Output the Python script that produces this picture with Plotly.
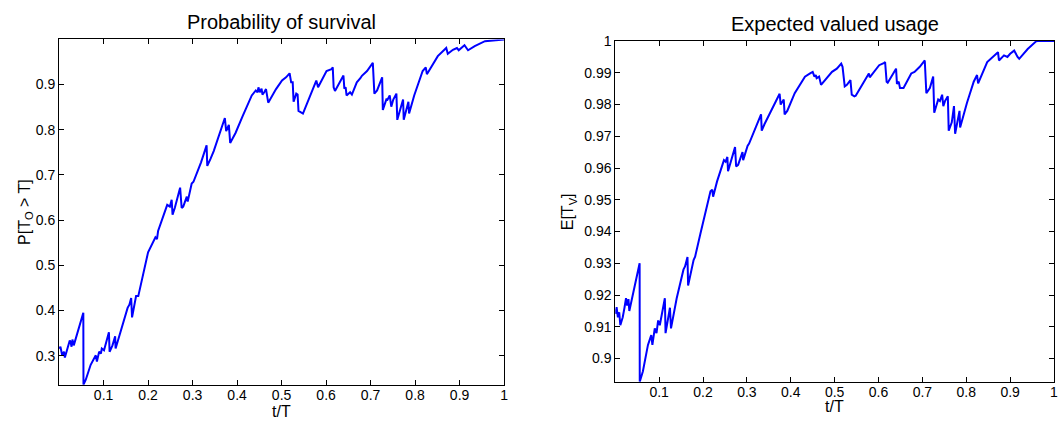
import plotly.graph_objects as go

# ---------------- data ----------------
surv_t = [0.000, 0.003, 0.007, 0.011, 0.013, 0.018, 0.022, 0.024, 0.026, 0.028, 0.030, 0.033,
          0.0545, 0.0548, 0.060, 0.071, 0.0825, 0.085, 0.090, 0.094, 0.096, 0.101, 0.112, 0.1135,
          0.120, 0.126, 0.127, 0.139, 0.154, 0.158, 0.162, 0.164, 0.173, 0.178, 0.200, 0.2165,
          0.220, 0.2225, 0.232, 0.243, 0.249, 0.253, 0.255, 0.260, 0.272, 0.2755, 0.279, 0.287,
          0.289, 0.298, 0.302, 0.319, 0.3315, 0.333, 0.340, 0.3475, 0.3725, 0.3755, 0.3815, 0.3845,
          0.389, 0.3965, 0.412, 0.433, 0.442, 0.446, 0.448, 0.451, 0.455, 0.457, 0.461, 0.465,
          0.470, 0.4875, 0.501, 0.510, 0.518, 0.5215, 0.525, 0.527, 0.533, 0.536, 0.538, 0.546,
          0.548, 0.578, 0.582, 0.601, 0.612, 0.615, 0.617, 0.620, 0.639, 0.641, 0.644, 0.646,
          0.654, 0.658, 0.669, 0.677, 0.6805, 0.692, 0.705, 0.7085, 0.7146, 0.726, 0.7275, 0.736,
          0.737, 0.743, 0.7465, 0.751, 0.758, 0.760, 0.7676, 0.773, 0.7745, 0.785, 0.7865, 0.798,
          0.817, 0.824, 0.8265, 0.851, 0.870, 0.8735, 0.885, 0.894, 0.898, 0.911, 0.919, 0.934,
          0.957, 0.980, 1.000]
surv_p = [0.316, 0.320, 0.301, 0.309, 0.296, 0.312, 0.323, 0.334, 0.330, 0.320, 0.336, 0.323,
          0.395, 0.236, 0.247, 0.280, 0.301, 0.287, 0.309, 0.305, 0.316, 0.312, 0.352, 0.309,
          0.323, 0.343, 0.316, 0.356, 0.406, 0.413, 0.428, 0.385, 0.432, 0.432, 0.529, 0.562,
          0.558, 0.576, 0.605, 0.634, 0.630, 0.645, 0.612, 0.627, 0.672, 0.627, 0.630, 0.652,
          0.641, 0.681, 0.685, 0.728, 0.7655, 0.720, 0.735, 0.753, 0.826, 0.797, 0.811, 0.771,
          0.779, 0.793, 0.829, 0.876, 0.887, 0.883, 0.894, 0.883, 0.891, 0.878, 0.883, 0.890,
          0.860, 0.890, 0.909, 0.916, 0.925, 0.905, 0.905, 0.862, 0.880, 0.878, 0.842, 0.838,
          0.836, 0.909, 0.894, 0.930, 0.934, 0.938, 0.894, 0.886, 0.920, 0.891, 0.894, 0.876,
          0.883, 0.878, 0.905, 0.914, 0.9195, 0.930, 0.948, 0.880, 0.887, 0.916, 0.844, 0.869,
          0.865, 0.876, 0.851, 0.867, 0.880, 0.822, 0.847, 0.867, 0.822, 0.862, 0.836, 0.876,
          0.930, 0.938, 0.923, 0.963, 0.981, 0.968, 0.977, 0.981, 0.976, 0.987, 0.976, 0.985,
          0.996, 0.999, 1.000]

usage_t = [0.000, 0.003, 0.006, 0.009, 0.0115, 0.017, 0.021, 0.0245, 0.027, 0.030, 0.032,
           0.0555, 0.0558, 0.063, 0.0745, 0.082, 0.0846, 0.090, 0.094, 0.0977, 0.1015, 0.113,
           0.1146, 0.119, 0.1246, 0.127, 0.140, 0.1554, 0.159, 0.1646, 0.166, 0.1785, 0.182,
           0.194, 0.217, 0.221, 0.223, 0.232, 0.2438, 0.2477, 0.2515, 0.2555, 0.257, 0.269,
           0.273, 0.2755, 0.280, 0.290, 0.2915, 0.3015, 0.305, 0.3323, 0.3338, 0.340, 0.3477,
           0.3746, 0.377, 0.384, 0.386, 0.392, 0.409, 0.4323, 0.444, 0.450, 0.454, 0.457, 0.459,
           0.4646, 0.469, 0.482, 0.494, 0.505, 0.515, 0.518, 0.523, 0.528, 0.536, 0.539, 0.545,
           0.548, 0.578, 0.580, 0.6015, 0.613, 0.615, 0.6185, 0.621, 0.640, 0.642, 0.646, 0.649,
           0.657, 0.6746, 0.682, 0.694, 0.7054, 0.709, 0.717, 0.7246, 0.727, 0.734, 0.736, 0.740,
           0.745, 0.7477, 0.7515, 0.758, 0.760, 0.767, 0.772, 0.7746, 0.7846, 0.786, 0.8015,
           0.817, 0.8246, 0.827, 0.8477, 0.8723, 0.8746, 0.886, 0.8938, 0.900, 0.9092, 0.917,
           0.9207, 0.940, 0.9592, 0.963, 1.000]
usage_e = [0.9141, 0.9162, 0.9130, 0.9146, 0.9105, 0.9130, 0.9160, 0.9190, 0.9167, 0.9187, 0.9150,
           0.9300, 0.8927, 0.8960, 0.9043, 0.9074, 0.9043, 0.9095, 0.9080, 0.9120, 0.9105, 0.9190,
           0.9080, 0.9115, 0.9160, 0.9095, 0.9190, 0.9280, 0.9290, 0.9320, 0.9230, 0.9310, 0.9321,
           0.9393, 0.9527, 0.9532, 0.9510, 0.9558, 0.9610, 0.9625, 0.9620, 0.9635, 0.9590, 0.9650,
           0.9666, 0.9605, 0.9610, 0.9650, 0.9625, 0.9670, 0.9677, 0.9769, 0.9718, 0.9738, 0.9759,
           0.9834, 0.9800, 0.9816, 0.9769, 0.9780, 0.9836, 0.9888, 0.9898, 0.9903, 0.9888, 0.9893, 0.9883,
           0.9888, 0.9862, 0.9883, 0.9903, 0.9913, 0.9929, 0.9919, 0.9857, 0.9862, 0.9877, 0.9831, 0.9826,
           0.9828, 0.9898, 0.9886, 0.9924, 0.9931, 0.9934, 0.9872, 0.9869, 0.9913, 0.9865, 0.9872, 0.9852,
           0.9852, 0.9898, 0.9903, 0.9919, 0.9939, 0.9836, 0.9852, 0.9888, 0.9774, 0.9805, 0.9816, 0.9811,
           0.9831, 0.9795, 0.9811, 0.9826, 0.9718, 0.9744, 0.9795, 0.9708, 0.9780, 0.9728, 0.9805,
           0.9872, 0.9893, 0.9867, 0.9934, 0.9965, 0.9939, 0.9955, 0.9950, 0.9960, 0.9970, 0.9950,
           0.9944, 0.9975, 0.9999, 1.0000, 1.0000]

x_ticks = [0.1, 0.2, 0.3, 0.4, 0.5, 0.6, 0.7, 0.8, 0.9, 1.0]
x_tick_text = ["0.1", "0.2", "0.3", "0.4", "0.5", "0.6", "0.7", "0.8", "0.9", "1"]
surv_y_ticks = [0.3, 0.4, 0.5, 0.6, 0.7, 0.8, 0.9]
surv_y_text = ["0.3", "0.4", "0.5", "0.6", "0.7", "0.8", "0.9"]
usage_y_ticks = [0.90, 0.91, 0.92, 0.93, 0.94, 0.95, 0.96, 0.97, 0.98, 0.99, 1.0]
usage_y_text = ["0.9", "0.91", "0.92", "0.93", "0.94", "0.95", "0.96", "0.97", "0.98", "0.99", "1"]

titles = ["Probability of survival", "Expected valued usage"]
x_label = "t/T"
y_labels = ["P[T<sub>O</sub> > T]", "E[T<sub>V</sub>]"]

# ---------------- figure ----------------
W, H = 1061, 421
FONT = "Liberation Sans, Arial, sans-serif"
BLUE = "#0000FF"

fig = go.Figure()
fig.add_trace(go.Scatter(x=surv_t, y=surv_p, mode="lines",
                         line=dict(color=BLUE, width=2), xaxis="x", yaxis="y",
                         showlegend=False, hoverinfo="skip"))
fig.add_trace(go.Scatter(x=usage_t, y=usage_e, mode="lines",
                         line=dict(color=BLUE, width=2), xaxis="x2", yaxis="y2",
                         showlegend=False, hoverinfo="skip"))

# pixel boxes
L1, R1, T1, B1 = 59.3, 506.0, 32.0, 384.0
L2, R2, T2, B2 = 617.6, 1058.0, 33.7, 381.0

axis_common = dict(showline=True, linecolor="black", linewidth=1, mirror="allticks",
                   ticks="inside", ticklen=5, tickcolor="black", tickwidth=1,
                   showgrid=False, zeroline=False,
                   tickfont=dict(family=FONT, size=14, color="black"))

fig.update_layout(
    width=W, height=H,
    margin=dict(l=0, r=0, t=0, b=0),
    paper_bgcolor="white", plot_bgcolor="white",
    xaxis=dict(domain=[L1 / W, R1 / W], range=[0, 1], tickvals=x_ticks,
               ticktext=x_tick_text, anchor="y", ticklabelstandoff=-3, **axis_common),
    yaxis=dict(domain=[1 - B1 / H, 1 - T1 / H],
               range=[min(surv_p), max(surv_p)], tickvals=surv_y_ticks,
               ticktext=surv_y_text, anchor="x", **axis_common),
    xaxis2=dict(domain=[L2 / W, R2 / W], range=[0, 1], tickvals=x_ticks,
                ticktext=x_tick_text, anchor="y2", ticklabelstandoff=-3, **axis_common),
    yaxis2=dict(domain=[1 - B2 / H, 1 - T2 / H],
                range=[min(usage_e), max(usage_e)], tickvals=usage_y_ticks,
                ticktext=usage_y_text, anchor="x2", **axis_common),
)

ann = []
# titles
ann.append(dict(text=titles[0], x=(L1 + R1) / 2 / W, y=1 - 14.5 / H, xref="paper", yref="paper",
                xanchor="center", yanchor="middle", showarrow=False,
                font=dict(family=FONT, size=20, color="black")))
ann.append(dict(text=titles[1], x=(L2 + R2) / 2 / W, y=1 - 16.5 / H, xref="paper", yref="paper",
                xanchor="center", yanchor="middle", showarrow=False,
                font=dict(family=FONT, size=20, color="black")))
# x labels
ann.append(dict(text=x_label, x=(L1 + R1) / 2 / W, y=1 - 411.5 / H, xref="paper", yref="paper",
                xanchor="center", yanchor="middle", showarrow=False, borderpad=0,
                font=dict(family=FONT, size=16, color="black")))
ann.append(dict(text=x_label, x=(L2 + R2) / 2 / W, y=1 - 406.5 / H, xref="paper", yref="paper",
                xanchor="center", yanchor="middle", showarrow=False, borderpad=0,
                font=dict(family=FONT, size=16, color="black")))
# y labels
ann.append(dict(text=y_labels[0], x=25 / W, y=1 - (T1 + B1) / 2 / H, xref="paper", yref="paper",
                xanchor="center", yanchor="middle", showarrow=False, textangle=-90,
                font=dict(family=FONT, size=16, color="black")))
ann.append(dict(text=y_labels[1], x=571 / W, y=1 - (T2 + B2) / 2 / H, xref="paper", yref="paper",
                xanchor="center", yanchor="middle", showarrow=False, textangle=-90,
                font=dict(family=FONT, size=16, color="black")))
fig.update_layout(annotations=ann)

fig.write_html("out.html", config={"displayModeBar": False},
               post_script="document.body.style.margin='0';document.body.style.overflow='hidden';")
